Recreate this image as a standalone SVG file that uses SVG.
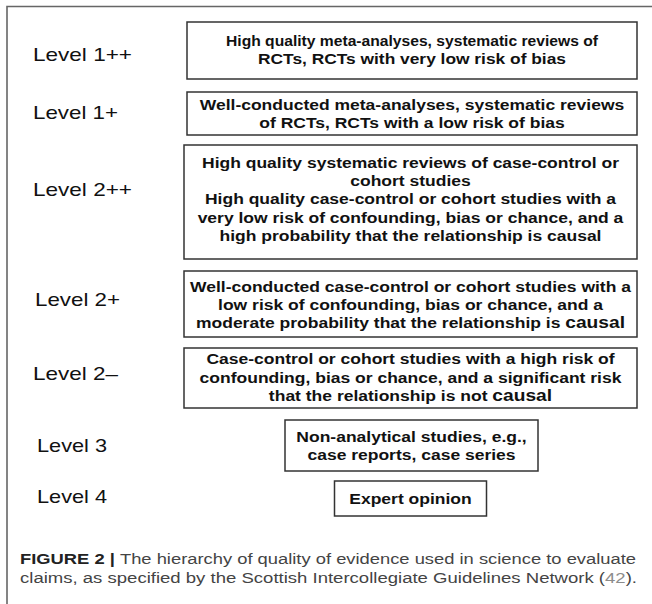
<svg xmlns="http://www.w3.org/2000/svg" width="652" height="604" viewBox="0 0 652 604">
<style>
.frame{stroke:#666;stroke-width:1.6;fill:none}
.box{fill:#fff;stroke:#333;stroke-width:1.5}
.bt{font-family:"Liberation Sans",Arial,sans-serif;font-weight:bold;font-size:15.5px;fill:#111;text-anchor:middle}
.big{font-size:17px}
.lv{font-family:"Liberation Sans",Arial,sans-serif;font-size:18.5px;fill:#111}
.cap{font-family:"Liberation Sans",Arial,sans-serif;font-size:15.5px;fill:#444}
.capb{font-weight:bold;fill:#222}
.ref{fill:#8c8c8c}
</style>
<rect width="652" height="604" fill="#fff"/>
<g id="frame">
<path class="frame" d="M7,604 V6.5 H652"/>
</g>
<g id="connectors"></g>
<g id="level1pp">
<text class="lv" x="33" y="61" textLength="99" lengthAdjust="spacingAndGlyphs">Level 1++</text>
<rect class="box" x="187" y="22" width="450" height="57"/>
<text class="bt" x="412" y="46" textLength="372" lengthAdjust="spacingAndGlyphs">High quality meta-analyses, systematic reviews of</text>
<text class="bt" x="412" y="64" textLength="308" lengthAdjust="spacingAndGlyphs">RCTs, RCTs with very low risk of bias</text>
</g>
<g id="level1p">
<text class="lv" x="33" y="118.5" textLength="85" lengthAdjust="spacingAndGlyphs">Level 1+</text>
<rect class="box" x="187" y="92" width="450" height="43"/>
<g transform="translate(412,0) scale(1.13,1)">
<text class="bt" x="0" y="110">Well-conducted meta-analyses, systematic reviews</text>
<text class="bt" x="0" y="128">of RCTs, RCTs with a low risk of bias</text>
</g>
</g>
<g id="level2pp">
<text class="lv" x="33" y="196" textLength="99" lengthAdjust="spacingAndGlyphs">Level 2++</text>
<rect class="box" x="184" y="145" width="453" height="114"/>
<g transform="translate(410.5,0) scale(1.13,1)">
<text class="bt" x="0" y="168">High quality systematic reviews of case-control or</text>
<text class="bt" x="0" y="186.2">cohort studies</text>
<text class="bt" x="0" y="204.4">High quality case-control or cohort studies with a</text>
<text class="bt" x="0" y="222.6">very low risk of confounding, bias or chance, and a</text>
<text class="bt" x="0" y="240.8">high probability that the relationship is causal</text>
</g>
</g>
<g id="level2p">
<text class="lv" x="35" y="306" textLength="85" lengthAdjust="spacingAndGlyphs">Level 2+</text>
<rect class="box" x="184" y="271" width="453" height="66"/>
<g transform="translate(410.5,0) scale(1.13,1)">
<text class="bt" x="0" y="292.5">Well-conducted case-control or cohort studies with a</text>
<text class="bt" x="0" y="310.5">low risk of confounding, bias or chance, and a</text>
<text class="bt" x="0" y="328.5">moderate probability that the relationship is <tspan class="big">causal</tspan></text>
</g>
</g>
<g id="level2m">
<text class="lv" x="33" y="380" textLength="85" lengthAdjust="spacingAndGlyphs">Level 2–</text>
<rect class="box" x="184" y="348" width="453" height="60"/>
<g transform="translate(410.5,0) scale(1.13,1)">
<text class="bt" x="0" y="364.5">Case-control or cohort studies with a high risk of</text>
<text class="bt" x="0" y="383">confounding, bias or chance, and a significant risk</text>
<text class="bt" x="0" y="401.5">that the relationship is not <tspan class="big">causal</tspan></text>
</g>
</g>
<g id="level3">
<text class="lv" x="37" y="452" textLength="70" lengthAdjust="spacingAndGlyphs">Level 3</text>
<rect class="box" x="285" y="420" width="253" height="51"/>
<g transform="translate(411.5,0) scale(1.13,1)">
<text class="bt" x="0" y="442">Non-analytical studies, e.g.,</text>
<text class="bt" x="0" y="460">case reports, case series</text>
</g>
</g>
<g id="level4">
<text class="lv" x="37" y="503" textLength="70" lengthAdjust="spacingAndGlyphs">Level 4</text>
<rect class="box" x="334.5" y="481" width="152" height="35"/>
<g transform="translate(410.5,0) scale(1.13,1)">
<text class="bt" x="0" y="504">Expert opinion</text>
</g>
</g>
<g id="caption">
<text class="cap" x="20" y="564" textLength="616" lengthAdjust="spacingAndGlyphs"><tspan class="capb">FIGURE 2 | </tspan>The hierarchy of quality of evidence used in science to evaluate</text>
<text class="cap" x="20" y="583" textLength="617" lengthAdjust="spacingAndGlyphs">claims, as specified by the Scottish Intercollegiate Guidelines Network (<tspan class="ref">42</tspan>).</text>
</g>
</svg>
